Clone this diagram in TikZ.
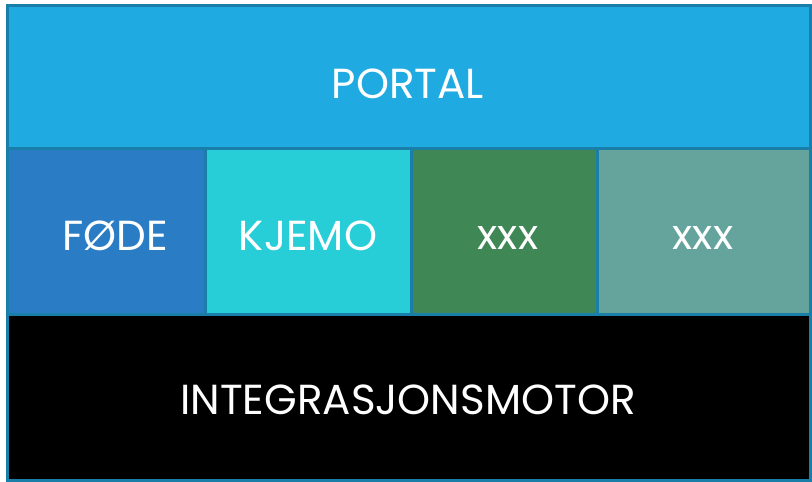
\documentclass[tikz,border=0pt]{standalone}
\usepackage{fontspec}
\setmainfont{Poppins}
\definecolor{edge}{HTML}{1A7FA8}
\definecolor{cportal}{HTML}{1FAAE1}
\definecolor{cfode}{HTML}{2A7CC4}
\definecolor{ckjemo}{HTML}{28CED7}
\definecolor{cgreen}{HTML}{3F8754}
\definecolor{cgrey}{HTML}{64A49C}
\begin{document}
\begin{tikzpicture}[x=1pt,y=-1pt,
  blk/.style={draw=edge,line width=3pt},
  lbl/.style={text=white,font=\fontsize{42}{46}\selectfont,inner sep=0pt}]
\useasboundingbox (0,0) rectangle (812,482);
\filldraw[blk,fill=cportal] (7,5) rectangle (810,148);
\filldraw[blk,fill=cfode] (7,148) rectangle (205,314);
\filldraw[blk,fill=ckjemo] (205,148) rectangle (411,314);
\filldraw[blk,fill=cgreen] (411,148) rectangle (597,314);
\filldraw[blk,fill=cgrey] (597,148) rectangle (810,314);
\filldraw[blk,fill=black] (7,314) rectangle (810,480);
\node[lbl] (portal) at (408,84) {PORTAL};
\node[lbl] (fode) at (115,236) {FØDE};
\node[lbl] (kjemo) at (308,236) {KJEMO};
\node[lbl] (x1) at (508,238) {xxx};
\node[lbl] (x2) at (703,238) {xxx};
\node[lbl] (motor) at (408,400) {INTEGRASJONSMOTOR};
\end{tikzpicture}
\end{document}
